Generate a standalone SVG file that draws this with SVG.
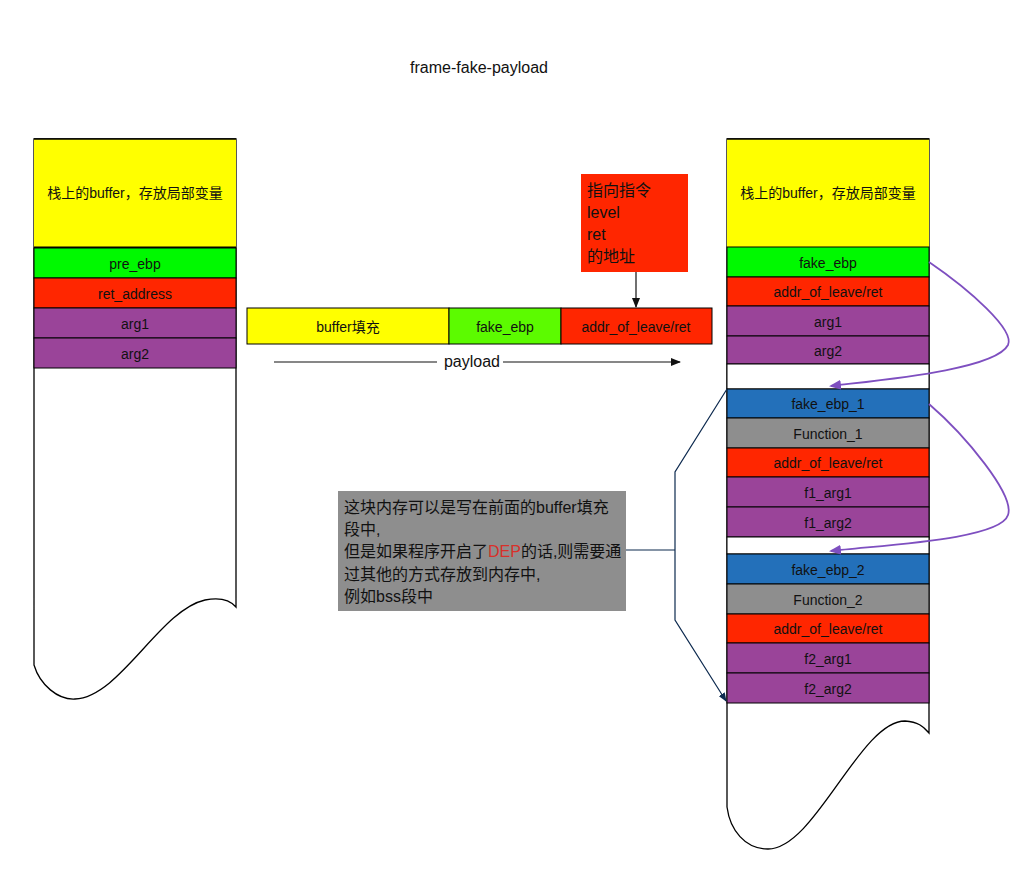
<svg xmlns="http://www.w3.org/2000/svg" width="1015" height="885" viewBox="0 0 1015 885">
<defs>
<style>
text{font-family:"Liberation Sans","Noto Sans CJK SC",sans-serif;font-size:14px;fill:#111;}
.c{text-anchor:middle;}
.big{font-size:16px;}
.cell{stroke:#000;stroke-width:1;}
.y{fill:#ffff00;}.g{fill:#00f900;}.g2{fill:#5cfb00;}.r{fill:#ff2600;}.p{fill:#9a4499;}.b{fill:#2370ba;}.gr{fill:#8e8e8e;}
.outline{fill:#fff;stroke:#000;stroke-width:1.3;}
.purple{fill:none;stroke:#7e4fc0;stroke-width:1.8;}
.navy{fill:none;stroke:#0d2a4f;stroke-width:1.2;}
</style>
<marker id="ap" markerWidth="12" markerHeight="10" refX="10" refY="5" orient="auto" markerUnits="userSpaceOnUse"><path d="M0,0 L12,5 L0,10 z" fill="#7e4fc0"/></marker>
<marker id="ak" markerWidth="10" markerHeight="8" refX="9" refY="4" orient="auto" markerUnits="userSpaceOnUse"><path d="M0,0 L10,4 L0,8 z" fill="#111"/></marker>
<marker id="an" markerWidth="9" markerHeight="7" refX="8" refY="3.5" orient="auto" markerUnits="userSpaceOnUse"><path d="M0,0 L9,3.5 L0,7 z" fill="#0d2a4f"/></marker>
</defs>
<rect width="1015" height="885" fill="#fff"/>
<text class="c big" x="479" y="73">frame-fake-payload</text>

<g id="left-stack">
<path class="outline" d="M34,139 H236 V607 C230,600 220,597 205,600 C160,610 120,697 75,699 C58,700 40,685 34,665 Z"/>
<rect class="y" x="34" y="139" width="202" height="108"/>
<line x1="34" y1="139" x2="236" y2="139" stroke="#000" stroke-width="1.3"/>
<line x1="34" y1="247.5" x2="236" y2="247.5" stroke="#000" stroke-width="2.2"/>
<text class="c" x="135" y="198">栈上的buffer，存放局部变量</text>
<rect class="cell g" x="34" y="248" width="202" height="30"/>
<text class="c" x="135" y="269">pre_ebp</text>
<rect class="cell r" x="34" y="278" width="202" height="30"/>
<text class="c" x="135" y="299">ret_address</text>
<rect class="cell p" x="34" y="308" width="202" height="30"/>
<text class="c" x="135" y="329">arg1</text>
<rect class="cell p" x="34" y="338" width="202" height="30"/>
<text class="c" x="135" y="359">arg2</text>
</g>

<g id="payload-bar">
<rect class="cell y" x="247" y="308" width="202" height="36"/>
<text class="c" x="348" y="332">buffer填充</text>
<rect class="cell g2" x="449" y="308" width="112" height="36"/>
<text class="c" x="505" y="332">fake_ebp</text>
<rect class="cell r" x="561" y="308" width="151" height="36"/>
<text class="c" x="636" y="332">addr_of_leave/ret</text>
</g>

<g id="note-red">
<rect class="r" x="581" y="174" width="107" height="98"/>
<text class="big" x="587" y="196">指向指令</text>
<text class="big" x="587" y="218">level</text>
<text class="big" x="587" y="240">ret</text>
<text class="big" x="587" y="262">的地址</text>
</g>

<g id="right-stack">
<path class="outline" d="M727,139 H929 V733 C923,726 918,722 905,721 C860,721 815,849 768,849 C745,849 730,830 727,807 Z"/>
<rect class="y" x="727" y="139" width="202" height="108"/>
<line x1="727" y1="139" x2="929" y2="139" stroke="#000" stroke-width="1.3"/>
<text class="c" x="828" y="198">栈上的buffer，存放局部变量</text>
<rect class="cell g" x="727" y="247" width="202" height="30"/>
<text class="c" x="828" y="268">fake_ebp</text>
<rect class="cell r" x="727" y="277" width="202" height="29"/>
<text class="c" x="828" y="297">addr_of_leave/ret</text>
<rect class="cell p" x="727" y="306" width="202" height="30"/>
<text class="c" x="828" y="327">arg1</text>
<rect class="cell p" x="727" y="336" width="202" height="28"/>
<text class="c" x="828" y="356">arg2</text>
<rect class="cell" x="727" y="364" width="202" height="25" fill="#fff"/>
<rect class="cell b" x="727" y="389" width="202" height="29"/>
<text class="c" x="828" y="409">fake_ebp_1</text>
<rect class="cell gr" x="727" y="418" width="202" height="30"/>
<text class="c" x="828" y="439">Function_1</text>
<rect class="cell r" x="727" y="448" width="202" height="29"/>
<text class="c" x="828" y="468">addr_of_leave/ret</text>
<rect class="cell p" x="727" y="477" width="202" height="30"/>
<text class="c" x="828" y="498">f1_arg1</text>
<rect class="cell p" x="727" y="507" width="202" height="30"/>
<text class="c" x="828" y="528">f1_arg2</text>
<rect class="cell" x="727" y="537" width="202" height="17" fill="#fff"/>
<rect class="cell b" x="727" y="554" width="202" height="30"/>
<text class="c" x="828" y="575">fake_ebp_2</text>
<rect class="cell gr" x="727" y="584" width="202" height="30"/>
<text class="c" x="828" y="605">Function_2</text>
<rect class="cell r" x="727" y="614" width="202" height="29"/>
<text class="c" x="828" y="634">addr_of_leave/ret</text>
<rect class="cell p" x="727" y="643" width="202" height="30"/>
<text class="c" x="828" y="664">f2_arg1</text>
<rect class="cell p" x="727" y="673" width="202" height="30"/>
<text class="c" x="828" y="694">f2_arg2</text>
</g>

<g id="note-gray">
<rect class="gr" x="338" y="491" width="288" height="120"/>
<text class="big" x="344" y="513">这块内存可以是写在前面的buffer填充</text>
<text class="big" x="344" y="535">段中,</text>
<text class="big" x="344" y="557">但是如果程序开启了<tspan fill="#d8302a">DEP</tspan>的话,则需要通</text>
<text class="big" x="344" y="580">过其他的方式存放到内存中,</text>
<text class="big" x="344" y="602">例如bss段中</text>
</g>

<g id="connectors">
<line x1="636" y1="272" x2="636" y2="307" stroke="#111" stroke-width="1.2" marker-end="url(#ak)"/>
<line x1="274" y1="362" x2="437" y2="362" stroke="#111" stroke-width="1.2"/>
<line x1="503" y1="362" x2="680" y2="362" stroke="#111" stroke-width="1.2" marker-end="url(#ak)"/>
<text class="c big" x="472" y="367">payload</text>
<path class="purple" d="M929,262 C970,290 1015,330 1008,345 C995,370 880,380 831,386" marker-end="url(#ap)"/>
<path class="purple" d="M929,404 C965,435 1015,495 1008,515 C1000,540 880,545 831,551" marker-end="url(#ap)"/>
<polyline class="navy" points="727,389 675,472 675,620 726,701" marker-end="url(#an)"/>
<line class="navy" x1="626" y1="550" x2="675" y2="550"/>
</g>
</svg>
